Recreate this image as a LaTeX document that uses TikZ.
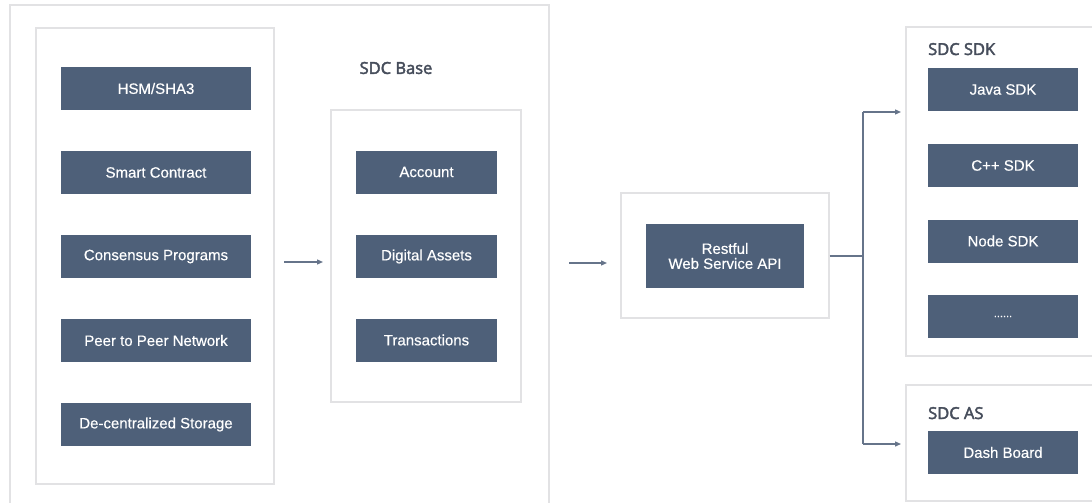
\documentclass[tikz,border=0pt]{standalone}
\usepackage{fontspec}
\setmainfont{Liberation Sans}
\newfontfamily\headfont[FakeBold=2.6]{Open Sans}
\newfontfamily\boxfont[FakeBold=0.4]{Liberation Sans}
\usetikzlibrary{arrows.meta}
\definecolor{boxblue}{HTML}{4E6079}
\definecolor{frame}{HTML}{E2E2E4}
\definecolor{wire}{HTML}{66748A}
\definecolor{headgray}{HTML}{464D5B}
\tikzset{
  blk/.style={fill=boxblue, text=white, inner sep=0pt, align=center,
    font=\boxfont\fontsize{15}{17}\selectfont},
  panel/.style={draw=frame, line width=1.4pt, fill=white},
  head/.style={text=headgray, inner sep=0pt, font=\headfont\fontsize{16.5}{19}\selectfont},
  flow/.style={draw=wire, line width=1.3pt, -{Triangle[length=6pt,width=5pt]}},
  wirel/.style={draw=wire, line width=1.3pt}
}
\begin{document}
\begin{tikzpicture}[x=1pt,y=-1pt]
\useasboundingbox (0,0) rectangle (1092,503);
\fill[white] (0,0) rectangle (1092,503);

% outer frame and left column
\draw[panel] (10,5) rectangle (549,515);
\draw[panel] (36,28) rectangle (274,484);
\node[blk, minimum width=190pt, minimum height=43pt] (hsm) at (156,88.5) {HSM/SHA3};
\node[blk, minimum width=190pt, minimum height=43pt] (smart) at (156,172.5) {Smart Contract};
\node[blk, minimum width=190pt, minimum height=43pt] (cons) at (156,256.5) {Consensus Programs};
\node[blk, minimum width=190pt, minimum height=43pt] (p2p) at (156,340.5) {Peer to Peer Network};
\node[blk, minimum width=190pt, minimum height=43pt] (store) at (156,424.5) {De-centralized Storage};

% SDC Base
\node[head] (basehead) at (396,68) {SDC Base};
\node[panel, minimum width=190pt, minimum height=292pt, inner sep=0pt] (base) at (426,256) {};
\node[blk, minimum width=141pt, minimum height=43pt] (acct) at (426.5,172) {Account};
\node[blk, minimum width=141pt, minimum height=43pt] (assets) at (426.5,256.5) {Digital Assets};
\node[blk, minimum width=141pt, minimum height=43pt] (trans) at (426.5,340) {Transactions};

% arrows between panels
\coordinate (a1s) at (284,262);
\coordinate (a1e) at (323,262);
\draw[flow] (a1s) -- (a1e);
\coordinate (a2s) at (569,263);
\coordinate (a2e) at (607,263);
\draw[flow] (a2s) -- (a2e);

% API
\node[panel, minimum width=208pt, minimum height=125pt, inner sep=0pt] (api) at (725,255.5) {};
\node[blk, minimum width=158pt, minimum height=64pt] (rest) at (725,256) {Restful\\[-2pt]Web Service API};

% SDK panel
\draw[panel] (906,27) rectangle (1100,356);
\node[head, anchor=base west] (sdkhead) at (928,55) {SDC SDK};
\node[blk, minimum width=150pt, minimum height=43pt] (java) at (1003,89.5) {Java SDK};
\node[blk, minimum width=150pt, minimum height=43pt] (cpp) at (1003,165.5) {C++ SDK};
\node[blk, minimum width=150pt, minimum height=43pt] (nodesdk) at (1003,241) {Node SDK};
\node[blk, minimum width=150pt, minimum height=43pt] (more) at (1003,316.5) {\fontsize{11}{12}\selectfont......};

% AS panel
\draw[panel] (906,385) rectangle (1100,501);
\node[head, anchor=base west] (ashead) at (928,419) {SDC AS};
\node[blk, minimum width=150pt, minimum height=43pt] (dash) at (1003,452.5) {Dash Board};

% fan-out from the API
\coordinate (split) at (863,256);
\coordinate (up) at (863,112);
\coordinate (down) at (863,444);
\coordinate (sdkin) at (901,112);
\coordinate (asin) at (901,444);
\draw[wirel] (api.east |- split) -- (split);
\draw[wirel] (up) -- (down);
\draw[flow] (up) -- (sdkin);
\draw[flow] (down) -- (asin);
\end{tikzpicture}
\end{document}
